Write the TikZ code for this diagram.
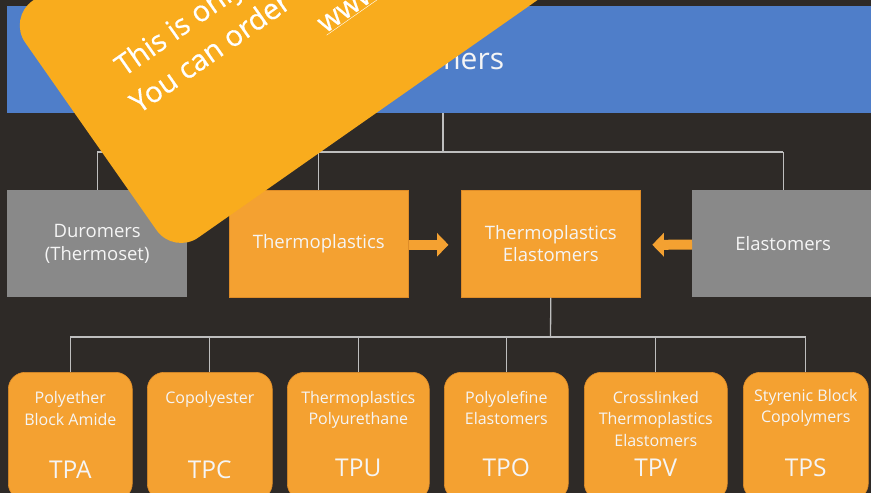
\documentclass[tikz,border=0pt]{standalone}
\usepackage{fontspec}
\setmainfont{Open Sans}
\newfontfamily\banfont{Open Sans}[FakeBold=0.5]
\usetikzlibrary{arrows.meta,calc}
\definecolor{bg}{RGB}{46,42,39}
\definecolor{bandblue}{RGB}{79,126,201}
\definecolor{boxorange}{RGB}{244,161,49}
\definecolor{boxedge}{RGB}{222,140,40}
\definecolor{boxgray}{RGB}{137,137,137}
\definecolor{linegray}{RGB}{190,190,190}
\definecolor{banner}{RGB}{249,172,29}
\definecolor{txt}{RGB}{245,245,245}
\tikzset{
  conn/.style={draw=linegray, line width=1.3pt},
  sqbox/.style={rectangle, minimum height=107pt, inner sep=0pt, anchor=north west,
    text=txt, font=\fontsize{18.5}{22.5}\selectfont, align=center},
  orbox/.style={sqbox, fill=boxorange, draw=boxedge, line width=0.6pt},
  grbox/.style={sqbox, fill=boxgray},
  rbox/.style={rectangle, rounded corners=17pt, fill=boxorange, draw=boxedge, line width=0.6pt,
    minimum height=128pt, anchor=north west, inner sep=0pt},
  rname/.style={anchor=north, text=txt, font=\fontsize{16}{21.5}\selectfont, align=center, inner sep=0pt},
  rabbr/.style={anchor=base, text=txt, font=\fontsize{24.5}{28}\selectfont, inner sep=0pt},
  blockarrow/.style={draw=boxorange, line width=10pt, -{Triangle[width=23pt,length=11.5pt]}},
  bantext/.style={anchor=base west, text=white, font=\banfont\fontsize{29}{39}\selectfont, inner sep=0pt, transform shape}
}
\begin{document}
\begin{tikzpicture}[x=1pt,y=1pt]
\useasboundingbox (0,0) rectangle (871,-493);
\fill[bg] (0,0) rectangle (871,-493);
\begin{scope}
\clip (0,0) rectangle (871,-493);
% title band
\node[rectangle, fill=bandblue, minimum width=866pt, minimum height=107pt, inner sep=0pt, anchor=north west] (band) at (7,-6) {};
\node[anchor=base, text=txt, font=\fontsize{30}{36}\selectfont, inner sep=0pt] (title) at (439,-69) {Polymers};
% second row
\node[grbox, minimum width=180pt] (dur) at (7,-190) {Duromers\\(Thermoset)};
\node[orbox, minimum width=179pt] (tp) at (229,-190) {Thermoplastics};
\node[orbox, minimum width=179pt] (tpe) at (461,-190) {Thermoplastics\\Elastomers};
\node[grbox, minimum width=182pt] (el) at (692,-190) {Elastomers};
% connectors top
\coordinate (j1) at (443,-152);
\draw[conn] (band.south -| j1) -- (j1);
\draw[conn] (dur.north |- j1) -- (el.north |- j1);
\foreach \n in {dur,tp,el} \draw[conn] (\n.north |- j1) -- (\n.north);
% block arrows
\draw[blockarrow, shorten >=12.5pt] ([yshift=-1pt]tp.east) -- ([yshift=-1pt]tpe.west);
\draw[blockarrow, shorten >=11.7pt] ([yshift=-1pt]el.west) -- ([yshift=-1pt]tpe.east);
% third row
\node[rbox, minimum width=124pt] (tpa) at (8,-372) {};
\node[rbox, minimum width=125pt] (tpc) at (147,-372) {};
\node[rbox, minimum width=142pt] (tpu) at (287,-372) {};
\node[rbox, minimum width=124pt] (tpo) at (444,-372) {};
\node[rbox, minimum width=143pt] (tpv) at (584,-372) {};
\node[rbox, minimum width=125pt] (tps) at (743,-372) {};
\coordinate (j2) at (550.5,-337);
\draw[conn] (tpe.south) -- (j2);
\draw[conn] (tpa.north |- j2) -- (tps.north |- j2);
\foreach \n in {tpa,tpc,tpu,tpo,tpv,tps} \draw[conn] (\n.north |- j2) -- (\n.north);
% texts third row
\node[rname] (tpan) at ($(tpa.north)+(0,-19.5)$) {Polyether\\Block Amide};
\node[rname] (tpcn) at ($(tpc.north)+(0,-19.5)$) {Copolyester};
\node[rname] (tpun) at ($(tpu.north)+(0,-19)$) {Thermoplastics\\Polyurethane};
\node[rname] (tpon) at ($(tpo.north)+(0,-19)$) {Polyolefine\\Elastomers};
\node[rname] (tpvn) at ($(tpv.north)+(0,-19)$) {Crosslinked\\Thermoplastics\\Elastomers};
\node[rname] (tpsn) at ($(tps.north)+(0,-17)$) {Styrenic Block\\Copolymers};
\node[rabbr] (tpaa) at ($(tpa.north)+(0,-106.5)$) {TPA};
\node[rabbr] (tpca) at ($(tpc.north)+(0,-106.5)$) {TPC};
\node[rabbr] (tpua) at ($(tpu.north)+(0,-104.5)$) {TPU};
\node[rabbr] (tpoa) at ($(tpo.north)+(0,-104.5)$) {TPO};
\node[rabbr] (tpva) at ($(tpv.north)+(0,-104)$) {TPV};
\node[rabbr] (tpsa) at ($(tps.north)+(0,-104)$) {TPS};
% banner overlay
\begin{scope}[shift={(8,-18)}, rotate=35]
\fill[banner, rounded corners=30pt] (0,0) rectangle (1000,-289);
\node[bantext] (b1) at (61,-115) {This is only};
\node[bantext] (b2) at (52,-154) {You can order};
\node[bantext] (b3) at (251,-195) {\underline{www.}};
\end{scope}
\end{scope}
\end{tikzpicture}
\end{document}
